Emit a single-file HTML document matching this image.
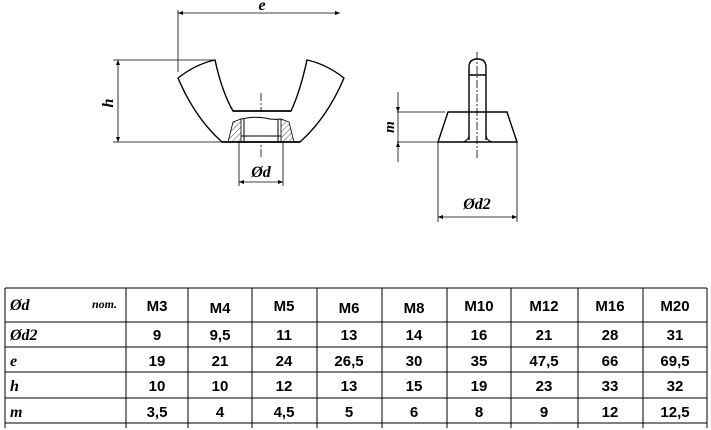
<!DOCTYPE html>
<html><head><style>
body{margin:0;background:#fff;width:711px;height:430px;overflow:hidden}
svg{display:block}
.it{font-family:"Liberation Serif",serif;font-style:italic;font-weight:bold}
.b{font-family:"Liberation Sans",sans-serif;font-weight:bold;font-size:15px}
</style></head><body>
<svg width="711" height="430" xmlns="http://www.w3.org/2000/svg">
<defs>
<marker id="a" viewBox="0 0 10 10" refX="10" refY="5" markerWidth="9" markerHeight="5" orient="auto-start-reverse" markerUnits="userSpaceOnUse"><path d="M0,1 L10,5 L0,9 Z" fill="#000"/></marker>
<pattern id="h" width="4" height="4" patternUnits="userSpaceOnUse" patternTransform="rotate(45)"><line x1="0" y1="0" x2="0" y2="4" stroke="#000" stroke-width="0.7"/></pattern>
</defs>
<g stroke="#000" fill="none" stroke-width="0.8">
<line x1="178" y1="10" x2="178" y2="72"/>
<line x1="178" y1="13" x2="340" y2="13" marker-start="url(#a)" marker-end="url(#a)"/>
<line x1="113" y1="60" x2="215" y2="60"/>
<line x1="113" y1="142" x2="222" y2="142"/>
<line x1="118" y1="60" x2="118" y2="142" marker-start="url(#a)" marker-end="url(#a)"/>
<line x1="239" y1="142" x2="239" y2="186"/>
<line x1="283" y1="142" x2="283" y2="186"/>
<line x1="239" y1="182" x2="283" y2="182" marker-start="url(#a)" marker-end="url(#a)"/>
<line x1="261" y1="93" x2="261" y2="158" stroke-dasharray="8,2,2,2"/>
</g>
<g stroke="#000" fill="none" stroke-width="1.4">
<path d="M178,78 Q196,64 215,60 Q222,92 233,111 L291,111 Q300,92 307,60 Q326,64 344,78 Q327,118 300,142 L222,142 Q195,118 178,78 Z" fill="#fff"/>
<line x1="233" y1="111" x2="291" y2="111"/>
<line x1="222" y1="142" x2="300" y2="142"/>
</g>
<path d="M228,142 L233,122 L241,119 L241,142 Z" fill="url(#h)" stroke="#000" stroke-width="0.8"/>
<path d="M294,142 L289,122 L281,119 L281,142 Z" fill="url(#h)" stroke="#000" stroke-width="0.8"/>
<g stroke="#000" fill="none" stroke-width="1">
<path d="M241,119 Q255,116 265,118 Q272,120 281,119"/>
<line x1="241" y1="136" x2="281" y2="136"/>
<line x1="244" y1="119" x2="244" y2="142"/>
<line x1="278" y1="119" x2="278" y2="142"/>
</g>
<text x="261" y="177" text-anchor="middle" class="it" font-size="16">Ød</text>
<text x="113" y="103" text-anchor="middle" class="it" font-size="16" transform="rotate(-90 113 103)">h</text>
<text x="262" y="10" text-anchor="middle" class="it" font-size="16">e</text>
<g stroke="#000" fill="none" stroke-width="0.8">
<line x1="397" y1="112" x2="445" y2="112"/>
<line x1="397" y1="142" x2="438" y2="142"/>
<line x1="398" y1="92" x2="398" y2="112" marker-end="url(#a)"/>
<line x1="398" y1="162" x2="398" y2="142" marker-end="url(#a)"/>
<line x1="398" y1="112" x2="398" y2="142"/>
<line x1="438" y1="142" x2="438" y2="222"/>
<line x1="517" y1="142" x2="517" y2="222"/>
<line x1="438" y1="217" x2="517" y2="217" marker-start="url(#a)" marker-end="url(#a)"/>
<line x1="477" y1="52" x2="477" y2="158" stroke-dasharray="8,2,2,2"/>
</g>
<g stroke="#000" fill="none" stroke-width="1.4">
<path d="M448,112 L507,112 L517,142 L438,142 Z"/>
<path d="M469,140 L469,67 Q469,59 477.5,59 Q486,59 486,67 L486,140"/>
<line x1="469" y1="75" x2="486" y2="75"/>
</g>
<path d="M463,142 Q469,140 469,135 M492,142 Q486,140 486,135" stroke="#000" fill="none" stroke-width="1"/>
<text x="477" y="209" text-anchor="middle" class="it" font-size="16">Ød2</text>
<text x="394" y="127" text-anchor="middle" class="it" font-size="15" transform="rotate(-90 394 127)">m</text>
<g stroke="#000" stroke-width="1">
<line x1="5" y1="288" x2="707" y2="288"/>
<line x1="5" y1="322" x2="707" y2="322"/>
<line x1="5" y1="347" x2="707" y2="347"/>
<line x1="5" y1="372" x2="707" y2="372"/>
<line x1="5" y1="398" x2="707" y2="398"/>
<line x1="5" y1="423" x2="707" y2="423"/>
<line x1="5" y1="288" x2="5" y2="428"/>
<line x1="126" y1="288" x2="126" y2="428"/>
<line x1="188" y1="288" x2="188" y2="428"/>
<line x1="252" y1="288" x2="252" y2="428"/>
<line x1="317" y1="288" x2="317" y2="428"/>
<line x1="382" y1="288" x2="382" y2="428"/>
<line x1="447" y1="288" x2="447" y2="428"/>
<line x1="511" y1="288" x2="511" y2="428"/>
<line x1="578" y1="288" x2="578" y2="428"/>
<line x1="643" y1="288" x2="643" y2="428"/>
<line x1="707" y1="288" x2="707" y2="428"/>
</g>
<g class="it" font-size="16">
<text x="10" y="310">Ød</text>
<text x="92" y="308" font-size="12">nom.</text>
<text x="10" y="340">Ød2</text>
<text x="10" y="366">e</text>
<text x="10" y="391">h</text>
<text x="10" y="417">m</text>
</g>
<g class="b" text-anchor="middle">
<text x="157" y="311">M3</text><text x="220" y="313">M4</text><text x="284" y="311">M5</text><text x="349" y="313">M6</text><text x="414" y="313">M8</text><text x="479" y="311">M10</text><text x="544" y="311">M12</text><text x="610" y="311">M16</text><text x="675" y="311">M20</text>
<text x="157" y="340">9</text><text x="220" y="340">9,5</text><text x="284" y="340">11</text><text x="349" y="340">13</text><text x="414" y="340">14</text><text x="479" y="340">16</text><text x="544" y="340">21</text><text x="610" y="340">28</text><text x="675" y="340">31</text>
<text x="157" y="366">19</text><text x="220" y="366">21</text><text x="284" y="366">24</text><text x="349" y="366">26,5</text><text x="414" y="366">30</text><text x="479" y="366">35</text><text x="544" y="366">47,5</text><text x="610" y="366">66</text><text x="675" y="366">69,5</text>
<text x="157" y="391">10</text><text x="220" y="391">10</text><text x="284" y="391">12</text><text x="349" y="391">13</text><text x="414" y="391">15</text><text x="479" y="391">19</text><text x="544" y="391">23</text><text x="610" y="391">33</text><text x="675" y="391">32</text>
<text x="157" y="417">3,5</text><text x="220" y="417">4</text><text x="284" y="417">4,5</text><text x="349" y="417">5</text><text x="414" y="417">6</text><text x="479" y="417">8</text><text x="544" y="417">9</text><text x="610" y="417">12</text><text x="675" y="417">12,5</text>
</g>
</svg>
</body></html>
